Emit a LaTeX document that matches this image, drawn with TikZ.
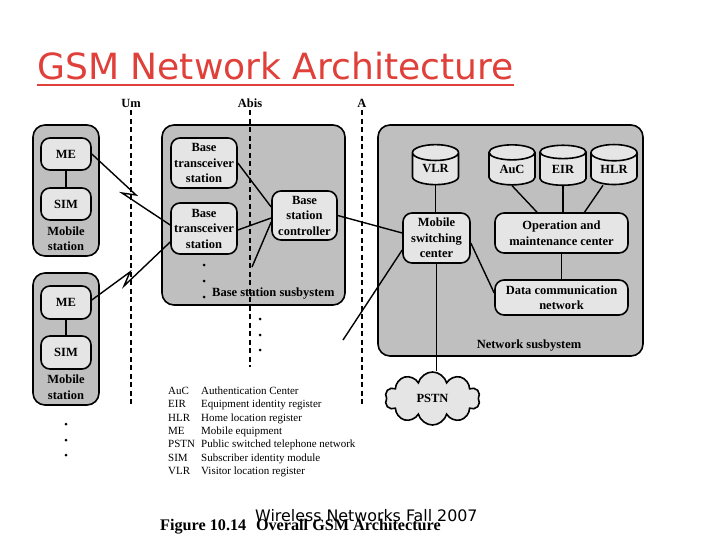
\documentclass[tikz,border=0pt]{standalone}
\usepackage{fontspec}
\setmainfont{Liberation Serif}
\newfontfamily\slidefont{DejaVu Sans}
\usetikzlibrary{shapes.geometric,shapes.symbols}
\definecolor{titlered}{HTML}{E0403A}
\tikzset{
  boxfont/.style={font=\fontsize{12.5}{15.5}\selectfont\bfseries},
  subsys/.style={draw, line width=1.6pt, fill=gray!50, rounded corners=12pt, inner sep=0pt},
  unit/.style={draw, line width=1.6pt, fill=gray!20, rounded corners=9pt, inner sep=0pt, align=center, boxfont},
  register/.style={cylinder, shape border rotate=90, aspect=0.6, draw, line width=1.6pt, fill=gray!20,
    inner sep=0pt, boxfont, minimum width=46pt, minimum height=40pt},
  link/.style={line width=1.4pt},
  iface/.style={line width=1.6pt, dash pattern=on 5pt off 3.5pt},
  ifacelabel/.style={anchor=base, inner sep=0pt, font=\fontsize{12.5}{14}\selectfont\bfseries},
  legend/.style={anchor=base west, inner sep=0pt, font=\fontsize{11}{13}\selectfont},
}
\begin{document}
\begin{tikzpicture}[x=1pt, y=-1pt]
	\useasboundingbox (0,0) rectangle (720,540);
	% Title
	\node[anchor=base west, inner sep=0pt, text=titlered, font=\slidefont\fontsize{36.1}{40}\selectfont] (title) at (37,80) {GSM Network Architecture};
	\draw[titlered, line width=2.5pt] ([yshift=-5pt]title.base west) -- ([yshift=-5pt]title.base east);
	% Interface labels
	\node[ifacelabel] (um) at (131,108) {Um};
	\node[ifacelabel] (abis) at (250,108) {Abis};
	\node[ifacelabel] (a) at (362,108) {A};
	% Mobile stations
	\node[subsys, minimum width=66pt, minimum height=131pt] (ms1) at (66,190.5) {};
	\node[unit, minimum width=50pt, minimum height=32pt] (me1) at (66,154) {ME};
	\node[unit, minimum width=50pt, minimum height=32pt] (sim1) at (66,204) {SIM};
	\node[boxfont, align=center] (ms1lbl) at (66,238.5) {Mobile\\station};
	\draw[link] (me1) -- (sim1);
	\node[subsys, minimum width=66pt, minimum height=132pt] (ms2) at (66,339) {};
	\node[unit, minimum width=50pt, minimum height=33pt] (me2) at (66,302.5) {ME};
	\node[unit, minimum width=50pt, minimum height=33pt] (sim2) at (66,352.5) {SIM};
	\node[boxfont, align=center] (ms2lbl) at (66,387) {Mobile\\station};
	\draw[link] (me2) -- (sim2);
	\foreach \y in {424,440,455} \fill (66,\y) circle (1.5pt);
	% Base station subsystem
	\node[subsys, minimum width=183pt, minimum height=180pt] (bss) at (253.5,215) {};
	\node[unit, minimum width=66pt, minimum height=50pt] (bts1) at (204,163) {Base\\transceiver\\station};
	\node[unit, minimum width=66pt, minimum height=51pt] (bts2) at (204,228.5) {Base\\transceiver\\station};
	\node[unit, minimum width=65pt, minimum height=49pt] (bsc) at (304.5,215.5) {Base\\station\\controller};
	\node[boxfont, anchor=base west, inner sep=0pt] (bsslbl) at (212,296) {Base station susbystem};
	\foreach \y in {265,281,297} \fill (204,\y) circle (1.5pt);
	\foreach \y in {319,335,350} \fill (260,\y) circle (1.5pt);
	% Network subsystem
	\node[subsys, minimum width=265pt, minimum height=231pt] (nss) at (510.5,240.5) {};
	\node[register] (vlr) at (435.5,169) {VLR};
	\node[register] (auc) at (512,169) {AuC};
	\node[register] (eir) at (563,169) {EIR};
	\node[register] (hlr) at (614,169) {HLR};
	\node[unit, minimum width=67pt, minimum height=50pt] (msc) at (436.5,238) {Mobile\\switching\\center};
	\node[unit, minimum width=133pt, minimum height=40pt] (omc) at (561.5,233) {Operation and\\maintenance center};
	\node[unit, minimum width=133pt, minimum height=35pt] (dcn) at (561.5,297.5) {Data communication\\network};
	\node[boxfont, anchor=base, inner sep=0pt] (nsslbl) at (529,348) {Network susbystem};
	\node[cloud, cloud puffs=10, aspect=1.8, draw, line width=1.6pt, fill=gray!20, inner sep=0pt,
	  minimum width=95pt, minimum height=53pt, boxfont] (pstn) at (432.5,398.5) {PSTN};
	% Interfaces (dashed)
	\draw[iface] ([yshift=-2pt]um.south) -- (um.south |- 0,405);
	\draw[iface] ([yshift=-2pt]abis.south) -- (abis.south |- 0,367);
	\draw[iface] ([yshift=-2pt]a.south) -- (a.south |- 0,405);
	% Radio links
	\coordinate (radio1a) at (136,195);
	\coordinate (radio1b) at (122,193);
	\coordinate (radio2a) at (130,272);
	\coordinate (radio2b) at (124,286);
	\draw[link] (me1.east) -- (radio1a) -- (radio1b) -- ([yshift=3.5pt]bts2.west);
	\draw[link] ([yshift=2.5pt]me2.east) -- (radio2a) -- (radio2b) -- ([yshift=-13.5pt]bts2.west);
	% Wired links
	\coordinate (morebts) at (252,267);
	\coordinate (morebsc) at (343,340);
	\draw[link] (bts1.east) -- ([yshift=8.5pt]bsc.west);
	\draw[link] ([yshift=-1.5pt]bts2.east) -- ([yshift=-2.5pt]bsc.west);
	\draw[link] ([yshift=-6.5pt]bsc.west) -- (morebts);
	\draw[link] (bsc.east) -- ([yshift=5pt]msc.west);
	\draw[link] ([yshift=-12pt]msc.west) -- (morebsc);
	\draw[link] (vlr.south) -- (vlr.south |- msc.north);
	\draw[link] (auc.south) -- ([xshift=-24.5pt]omc.north);
	\draw[link] (eir.south) -- (eir.south |- omc.north);
	\draw[link] ([xshift=-11pt]hlr.south) -- ([xshift=23pt]omc.north);
	\draw[link] (omc.south) -- (dcn.north);
	\draw[link] ([yshift=-5pt]msc.east) -- ([yshift=4.5pt]dcn.west);
	\draw[link] (msc.south) -- (msc.south |- pstn.north);
	% Legend
	\foreach \abbr/\desc [count=\i from 0] in {AuC/Authentication Center, EIR/Equipment identity register,
	  HLR/Home location register, ME/Mobile equipment, PSTN/Public switched telephone network,
	  SIM/Subscriber identity module, VLR/Visitor location register} {
		\node[legend] (abbr\i) at (168,{394.5+13.3*\i}) {\abbr};
		\node[legend] (desc\i) at (201,{394.5+13.3*\i}) {\desc};
	}
	% Caption and footer
	\node[anchor=base west, inner sep=0pt, font=\fontsize{16.2}{18}\selectfont\bfseries] (caption) at (160,530) {Figure 10.14\hspace{0.6em}Overall GSM Architecture};
	\node[anchor=base west, inner sep=0pt, font=\slidefont\fontsize{15.85}{18}\selectfont] (footer) at (255,521) {Wireless Networks Fall 2007};
\end{tikzpicture}
\end{document}
